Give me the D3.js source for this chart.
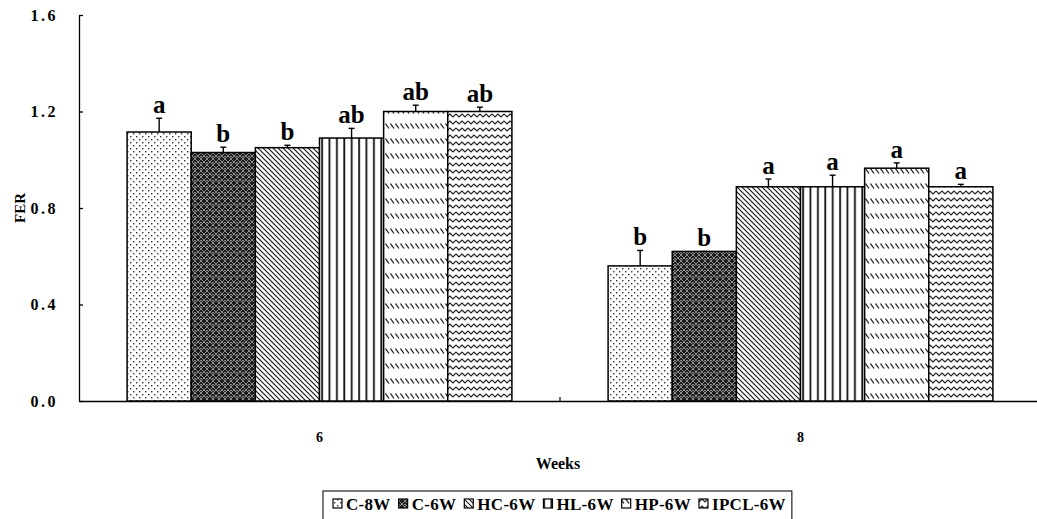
<!DOCTYPE html>
<html>
<head>
<meta charset="utf-8">
<script src="https://cdn.jsdelivr.net/npm/d3@7"></script>
<style>
  body { margin: 0; background: #fff; }
  text { font-family: "Liberation Serif", "Times New Roman", serif; font-weight: bold; fill: #000; }
</style>
</head>
<body>
<div id="chart"></div>
<script>
// data
var weeks = ["6", "8"];
var groups = ["C-8W", "C-6W", "HC-6W", "HL-6W", "HP-6W", "IPCL-6W"];
var ferWeek6 = [1.115, 1.03, 1.05, 1.09, 1.2, 1.2];
var ferWeek8 = [0.56, 0.62, 0.888, 0.888, 0.965, 0.888];
var errWeek6 = [0.057, 0.022, 0.01, 0.04, 0.026, 0.018];
var errWeek8 = [0.064, 0.0, 0.032, 0.048, 0.022, 0.01];
var sigWeek6 = ["a", "b", "b", "ab", "ab", "ab"];
var sigWeek8 = ["b", "b", "a", "a", "a", "a"];
var yTicks = [0, 0.4, 0.8, 1.2, 1.6];

var svgWidth = 1037;
var svgHeight = 519;

var margin = { top: 15, left: 79, bottom: 118 };
var plotRight = 1041;
var height = svgHeight - margin.top - margin.bottom;

var svg = d3.select("#chart")
  .append("svg")
  .attr("width", svgWidth)
  .attr("height", svgHeight);

// ---- fill patterns ----
var defs = svg.append("defs");

var p1 = defs.append("pattern").attr("id", "pat0").attr("patternUnits", "userSpaceOnUse")
  .attr("width", 6).attr("height", 6);
p1.append("rect").attr("width", 6).attr("height", 6).attr("fill", "#fff");
p1.append("rect").attr("x", 1).attr("y", 1).attr("width", 1.4).attr("height", 1.4).attr("fill", "#333");
p1.append("rect").attr("x", 4).attr("y", 4).attr("width", 1.4).attr("height", 1.4).attr("fill", "#333");

var p2 = defs.append("pattern").attr("id", "pat1").attr("patternUnits", "userSpaceOnUse")
  .attr("width", 6).attr("height", 6);
p2.append("rect").attr("width", 6).attr("height", 6).attr("fill", "#1c1c1c");
p2.append("path").attr("d", "M0,0 L6,6 M6,0 L0,6").attr("stroke", "#9a9a9a").attr("stroke-width", 0.9);
p2.append("rect").attr("x", 2.3).attr("y", 0).attr("width", 1.4).attr("height", 1.2).attr("fill", "#bbb");

var p3 = defs.append("pattern").attr("id", "pat2").attr("patternUnits", "userSpaceOnUse")
  .attr("width", 5).attr("height", 5);
p3.append("rect").attr("width", 5).attr("height", 5).attr("fill", "#fff");
p3.append("path").attr("d", "M-1,-1 L6,6 M-1,4 L1,6 M4,-1 L6,1").attr("stroke", "#111").attr("stroke-width", 1.1);

var p4 = defs.append("pattern").attr("id", "pat3").attr("patternUnits", "userSpaceOnUse")
  .attr("width", 7.4).attr("height", 6);
p4.append("rect").attr("width", 7.4).attr("height", 6).attr("fill", "#fff");
p4.append("rect").attr("x", 3).attr("width", 1.8).attr("height", 6).attr("fill", "#111");

var p5 = defs.append("pattern").attr("id", "pat4").attr("patternUnits", "userSpaceOnUse")
  .attr("width", 5).attr("height", 15);
p5.append("rect").attr("width", 5).attr("height", 15).attr("fill", "#fff");
p5.append("path").attr("d", "M0.5,3.5 L4,8.5").attr("stroke", "#222").attr("stroke-width", 1.3);

var p6 = defs.append("pattern").attr("id", "pat5").attr("patternUnits", "userSpaceOnUse")
  .attr("width", 12).attr("height", 7);
p6.append("rect").attr("width", 12).attr("height", 7).attr("fill", "#fff");
p6.append("path").attr("d", "M0,2 L3,5 L6,2 L9,5 L12,2").attr("fill", "none")
  .attr("stroke", "#222").attr("stroke-width", 1.2);

// ---- scales ----
var x0 = d3.scaleBand()
  .domain(weeks)
  .range([margin.left, plotRight])
  .padding(0);

var gap = x0.bandwidth() * 0.1;
var x1 = d3.scaleBand()
  .domain(groups)
  .range([gap, x0.bandwidth() - gap])
  .padding(0);

var y = d3.scaleLinear()
  .domain([0, 1.6])
  .range([margin.top + height, margin.top]);

// ---- axes ----
var leftAxis = d3.axisLeft(y)
  .tickValues(yTicks)
  .tickFormat(d3.format(".1f"))
  .tickSizeInner(-4)
  .tickSizeOuter(0)
  .tickPadding(21);

var yAxisG = svg.append("g")
  .attr("transform", `translate(${margin.left}, 0)`)
  .call(leftAxis);
yAxisG.selectAll("text")
  .style("font-size", "16px")
  .style("letter-spacing", "2.5px");
yAxisG.selectAll("line, path").attr("stroke", "#000").attr("stroke-width", 1.3);

var bottomAxis = d3.axisBottom(x0)
  .tickSize(0)
  .tickPadding(31);

var xAxisG = svg.append("g")
  .attr("transform", `translate(0, ${y(0)})`)
  .call(bottomAxis);
xAxisG.select(".domain").attr("stroke", "#000").attr("stroke-width", 1.3);
xAxisG.selectAll("text").style("font-size", "14px");

// category separator tick
svg.append("line")
  .attr("x1", x0("8")).attr("x2", x0("8"))
  .attr("y1", y(0)).attr("y2", y(0) - 4)
  .attr("stroke", "#000").attr("stroke-width", 1.2);

// ---- bars ----
var rows = [];
weeks.forEach(function (w, wi) {
  var vals = wi === 0 ? ferWeek6 : ferWeek8;
  var errs = wi === 0 ? errWeek6 : errWeek8;
  var sigs = wi === 0 ? sigWeek6 : sigWeek8;
  groups.forEach(function (g, gi) {
    rows.push({ week: w, group: g, gi: gi, value: vals[gi], err: errs[gi], sig: sigs[gi] });
  });
});

var barG = svg.append("g");

barG.selectAll("rect")
  .data(rows)
  .enter()
  .append("rect")
  .attr("x", d => x0(d.week) + x1(d.group))
  .attr("y", d => y(d.value))
  .attr("width", x1.bandwidth())
  .attr("height", d => y(0) - y(d.value))
  .attr("fill", d => `url(#pat${d.gi})`)
  .attr("stroke", "#000")
  .attr("stroke-width", 1.5);

// error bars
var errG = svg.append("g").attr("stroke", "#000").attr("stroke-width", 1.4);
errG.selectAll(".ev")
  .data(rows.filter(d => d.err > 0))
  .enter()
  .append("line")
  .attr("x1", d => x0(d.week) + x1(d.group) + x1.bandwidth() / 2)
  .attr("x2", d => x0(d.week) + x1(d.group) + x1.bandwidth() / 2)
  .attr("y1", d => y(d.value))
  .attr("y2", d => y(d.value + d.err));
errG.selectAll(".eh")
  .data(rows)
  .enter()
  .append("line")
  .attr("x1", d => x0(d.week) + x1(d.group) + x1.bandwidth() / 2 - 3)
  .attr("x2", d => x0(d.week) + x1(d.group) + x1.bandwidth() / 2 + 3)
  .attr("y1", d => y(d.value + d.err))
  .attr("y2", d => y(d.value + d.err));

// significance letters
svg.append("g").selectAll("text")
  .data(rows)
  .enter()
  .append("text")
  .attr("x", d => x0(d.week) + x1(d.group) + x1.bandwidth() / 2)
  .attr("y", d => y(d.value + d.err) - 5)
  .attr("text-anchor", "middle")
  .style("font-size", "25px")
  .text(d => d.sig);

// ---- axis titles ----
svg.append("text")
  .attr("transform", `translate(25, ${y(0.8)}) rotate(-90)`)
  .attr("text-anchor", "middle")
  .style("font-size", "15px")
  .text("FER");

svg.append("text")
  .attr("x", 558)
  .attr("y", 469)
  .attr("text-anchor", "middle")
  .style("font-size", "16px")
  .text("Weeks");

// ---- legend ----
var legend = svg.append("g");
var legendBox = legend.append("rect")
  .attr("x", 323).attr("y", 491)
  .attr("height", 30)
  .attr("fill", "#fff")
  .attr("stroke", "#222")
  .attr("stroke-width", 1.2);

var lx = 333;
groups.forEach(function (g, gi) {
  legend.append("rect")
    .attr("x", lx).attr("y", 499)
    .attr("width", 9).attr("height", 9)
    .attr("fill", `url(#pat${gi})`)
    .attr("stroke", "#000")
    .attr("stroke-width", 1.2);
  var t = legend.append("text")
    .attr("x", lx + 13)
    .attr("y", 510)
    .style("font-size", "17px")
    .style("letter-spacing", "0.3px")
    .text(g);
  lx += 13 + t.node().getComputedTextLength() + 8;
});
legendBox.attr("width", lx - 323 - 2);
</script>
</body>
</html>
